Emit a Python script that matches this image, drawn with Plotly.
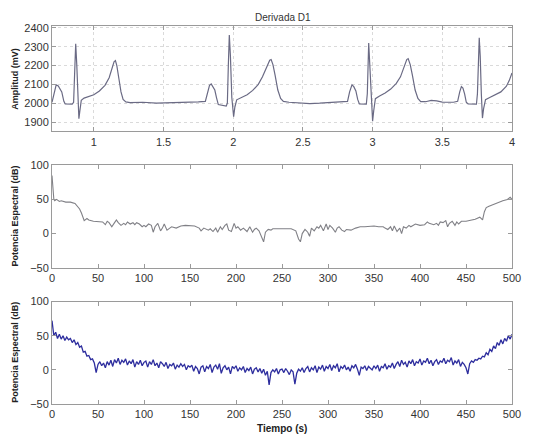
import plotly.graph_objects as go
from plotly.subplots import make_subplots

# ---- Top panel: ECG lead D1 (time in s, amplitude in mV) ----
ecg_t = [0.70, 0.715, 0.73, 0.745, 0.76, 0.77, 0.785, 0.795, 0.845, 0.855, 0.862, 0.870, 0.878, 0.886,
         0.893, 0.90, 0.91, 0.93, 0.97, 1.0, 1.04, 1.08, 1.11, 1.13, 1.145, 1.155, 1.165, 1.18, 1.195,
         1.21, 1.23, 1.26, 1.35, 1.45, 1.55, 1.65, 1.75, 1.80,
         1.815, 1.83, 1.842, 1.855, 1.868, 1.88, 1.893, 1.95, 1.958, 1.965, 1.972, 1.98, 1.99, 2.003,
         2.012, 2.025, 2.06, 2.1, 2.14, 2.18, 2.21, 2.24, 2.262, 2.272, 2.285, 2.30, 2.32, 2.34, 2.36,
         2.4, 2.47, 2.55, 2.62, 2.7, 2.78, 2.82,
         2.835, 2.852, 2.865, 2.88, 2.893, 2.905, 2.955, 2.962, 2.972, 2.98, 2.99, 3.0, 3.008, 3.02,
         3.05, 3.09, 3.13, 3.17, 3.2, 3.225, 3.245, 3.255, 3.27, 3.285, 3.305, 3.325, 3.345, 3.38,
         3.42, 3.46, 3.5, 3.58, 3.61,
         3.625, 3.637, 3.648, 3.66, 3.672, 3.685, 3.745, 3.752, 3.765, 3.772, 3.78, 3.788, 3.796, 3.81,
         3.84, 3.88, 3.92, 3.96, 3.98, 4.0]
ecg_v = [2005, 2060, 2097, 2092, 2075, 2060, 2010, 1996, 1995, 2005, 2150, 2315, 2200, 2000,
         1918, 1960, 2015, 2027, 2035, 2045, 2065, 2095, 2135, 2185, 2220, 2226, 2200, 2130, 2060,
         2020, 2007, 2003, 2005, 2000, 2001, 2004, 2007, 2010,
         2050, 2095, 2102, 2085, 2070, 2030, 1993, 1985, 2000, 2200, 2362, 2250, 2030, 1928,
         1980, 2018, 2030, 2045, 2068, 2100, 2140, 2190, 2228, 2232, 2205, 2150, 2070, 2025, 2010,
         2005, 2002, 1998, 2000, 2003, 2005, 2010,
         2060, 2098, 2088, 2065, 2020, 1996, 1995, 2050, 2320, 2200, 2000, 1904, 1960, 2024,
         2038, 2054, 2075, 2105, 2140, 2195, 2232, 2237, 2205, 2150, 2070, 2025, 2008, 2008,
         2015, 2012, 2006, 2005, 2010,
         2060, 2088, 2080, 2050, 2005, 1996, 1995, 2050, 2347, 2250, 2050, 1921, 1970, 2019,
         2030, 2045, 2060, 2090, 2120, 2160]

# ---- Middle panel: spectral power (dB) ----
mid_x = [0, 1, 2, 3, 5, 8, 10, 15, 20, 25, 28, 30, 32, 34, 35, 38, 40, 45, 50, 55, 58, 60, 62, 65,
         68, 70, 72, 75, 78, 80, 82, 85, 88, 90, 92, 95, 98, 100, 102, 105, 108, 110, 112, 115,
         118, 120, 122, 125, 128, 130, 135, 140, 145, 150, 155, 160, 162, 165, 168, 170, 172,
         175, 178, 180, 183, 185, 188, 190, 192, 195, 198, 200, 202, 205, 208, 210, 212, 215,
         218, 220, 222, 225, 228, 230, 232, 235, 238, 240, 245, 250, 255, 260, 265, 268, 270,
         272, 275, 278, 280, 282, 285, 288, 290, 292, 295, 298, 300, 302, 305, 308, 310, 312,
         315, 318, 320, 325, 330, 335, 340, 345, 350, 355, 360, 362, 365, 368, 370, 372, 375,
         378, 380, 382, 385, 388, 390, 395, 400, 405, 408, 410, 415, 418, 420, 422, 425, 428,
         430, 432, 435, 438, 440, 442, 445, 450, 455, 460, 465, 468, 470, 472, 475, 480, 485,
         490, 495, 498, 500]
mid_y = [85, 60, 50, 48, 50, 47, 48, 46, 46, 44, 40, 36, 30, 22, 19, 22, 20, 18, 18, 17, 13, 18, 16, 10,
         16, 20, 16, 12, 15, 13, 17, 14, 16, 13, 16, 14, 10, 12, 10, 14, 12, 2, 10, 15,
         4, 8, 14, 5, 8, 10, 8, 11, 12, 12, 11, 8, 4, 8, 6, 5, 7,
         3, 8, 2, 10, 6, 12, 14, 5, 3, 15, 8, 10, 5, 8, 6, 3, 10,
         2, 6, 8, 4, -5, -12, 2, 6, 5, 7, 7, 7, 7, 7, 4, -8, -12,
         0, 6, 2, -4, 8, 4, 10, 8, 12, 4, 14, 6, 12, 8, 2, 8, 10,
         5, 3, 6, 5, 8, 10, 10, 11, 11, 10, 10, 8, 6, 10, 4, 11, 3,
         8, 0, 10, 8, 12, 10, 14, 12, 13, 17, 15, 13, 15, 12, 17, 16, 19,
         10, 15, 18, 12, 17, 14, 18, 18, 19, 21, 24, 20, 32, 38, 40, 43, 46,
         48, 50, 53, 50]

# ---- Bottom panel: spectral power (dB), x step 2 ----
low_x = list(range(0, 501, 2))
low_y = [72, 50, 55, 46, 52, 45, 50, 43, 48, 44, 46, 40, 44, 37, 40, 33, 35, 26, 27, 20, 21, 15, 16, 10, -4,
         8, 12, 6, 10, 3, 12, 7, 14, 5, 15, 10, 17, 8, 14, 11, 16, 7, 13, 9, 15, 4, 12, 8, 14, 6,
         11, 13, 4, 12, 8, 15, 6, 10, 3, 12, 9, 5, 11, 2, 8, 6, 10, 1, 7, 4, 9, 5, 8, 0, 6,
         4, 7, -2, 5, 2, -6, 4, 6, -3, 5, 2, 8, -4, 4, 7, 1, 9, -5, 3, 6, 0, 4, -6, 5, 2,
         6, -2, 3, 0, 5, -4, 2, -1, 4, -6, 1, 3, -3, 2, -5, 1, -8, -2, -22, -4, 0, -3, 2, -6, 0,
         1, -4, 2, -2, -7, 0, -3, -21, -5, 1, -2, 3, -4, 2, 5, -3, 3, 0, 6, -4, 4, 1, 7, -2, 5,
         2, 8, -1, 6, 3, 9, -3, 5, 2, 7, 0, 4, -2, 6, 3, 8, 1, -8, 4, 2, 6, -1, 5, 3, 0,
         6, 2, 7, -2, 5, 3, 9, 1, 6, 4, 10, 2, 8, 12, 5, 14, 8, 11, 4, 13, 9, 15, 6, 12, 10,
         16, 7, 13, 11, 17, 9, 14, 6, 12, 15, 8, 13, 11, 17, 9, 14, 12, 18, 7, 13, 10, 15, 5, 11, 8,
         3, -6, 9, 13, 11, 15, 14, 17, 16, 20, 19, 25, 22, 30, 27, 35, 31, 40, 36, 44, 38, 46, 42, 50, 45,
         52]

top_xticks = [1, 1.5, 2, 2.5, 3, 3.5, 4]
top_yticks = [1900, 2000, 2100, 2200, 2300, 2400]
spec_xticks = [0, 50, 100, 150, 200, 250, 300, 350, 400, 450, 500]
spec_yticks = [-50, 0, 50, 100]

fig = make_subplots(rows=3, cols=1, shared_xaxes=False)

fig.add_trace(go.Scatter(x=ecg_t, y=ecg_v, mode="lines",
                         line=dict(color="#6a6a84", width=1.2)), row=1, col=1)
fig.add_trace(go.Scatter(x=mid_x, y=mid_y, mode="lines",
                         line=dict(color="#808086", width=1.1)), row=2, col=1)
fig.add_trace(go.Scatter(x=low_x, y=low_y, mode="lines",
                         line=dict(color="#2e2e9e", width=1.3)), row=3, col=1)

axis_common = dict(showline=True, linecolor="#9a9a9a", linewidth=1, mirror="ticks",
                   ticks="inside", ticklen=4, tickcolor="#9a9a9a", zeroline=False,
                   tickfont=dict(family="Liberation Sans, Arial", size=11, color="#333333"))

# page body has an 8px default margin: size the figure so the plot lands where the reference is
fig.update_layout(
    width=535, height=428,
    margin=dict(l=44, r=31, t=16, b=32),
    paper_bgcolor="white", plot_bgcolor="white",
    showlegend=False,
    xaxis=dict(domain=[0, 1], range=[0.7, 4], tickvals=top_xticks, ticktext=["1", "1.5", "2", "2.5", "3", "3.5", "4"],
               showgrid=True, gridcolor="#dadada", griddash="dot", gridwidth=1, **axis_common),
    yaxis=dict(domain=[0.721, 1.0], range=[1850, 2410], tickvals=top_yticks,
               showgrid=True, gridcolor="#dadada", griddash="dot", gridwidth=1, **axis_common),
    xaxis2=dict(domain=[0, 1], range=[0, 500], tickvals=spec_xticks, showgrid=False, **axis_common),
    yaxis2=dict(domain=[0.3605, 0.6316], range=[-50, 100], tickvals=spec_yticks, showgrid=False, **axis_common),
    xaxis3=dict(domain=[0, 1], range=[0, 500], tickvals=spec_xticks, showgrid=False, **axis_common),
    yaxis3=dict(domain=[0, 0.271], range=[-50, 100], tickvals=spec_yticks, showgrid=False, **axis_common),
)

lab_font = dict(family="Liberation Sans, Arial", size=9, color="#222222")
fig.add_annotation(text="Derivada D1", xref="paper", yref="paper", x=0.503, y=1.0, yshift=9,
                   showarrow=False, yanchor="middle", xanchor="center",
                   font=dict(family="Liberation Sans, Arial", size=10, color="#333333"))
fig.add_annotation(text="<b>Amplitud (mV)</b>", xref="paper", yref="paper", x=0, xshift=-37,
                   xanchor="center", yanchor="middle",
                   y=(0.721 + 1.0) / 2, textangle=-90, showarrow=False, font=lab_font)
fig.add_annotation(text="<b>Potencia Espectral (dB)</b>", xref="paper", yref="paper", x=0, xshift=-37,
                   xanchor="center", yanchor="middle",
                   y=(0.3605 + 0.6316) / 2, textangle=-90, showarrow=False, font=lab_font)
fig.add_annotation(text="<b>Potencia Espectral (dB)</b>", xref="paper", yref="paper", x=0, xshift=-37,
                   xanchor="center", yanchor="middle",
                   y=0.271 / 2, textangle=-90, showarrow=False, font=lab_font)
fig.add_annotation(text="<b>Tiempo (s)</b>", xref="paper", yref="paper", x=0.5, y=0, yshift=-24,
                   showarrow=False, yanchor="middle", xanchor="center",
                   font=dict(family="Liberation Sans, Arial", size=10, color="#222222"))

fig.write_html("out.html")
